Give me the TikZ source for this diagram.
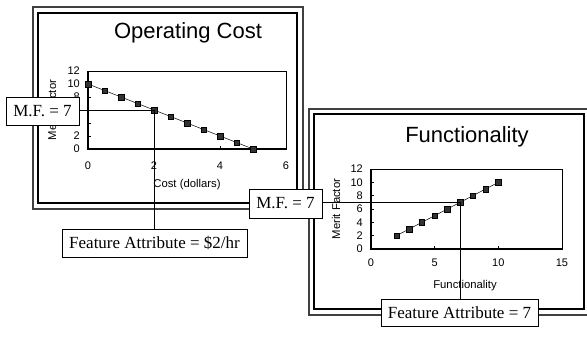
\documentclass[tikz,border=0pt]{standalone}
\usepackage{fontspec}
\setmainfont{Liberation Serif}
\setsansfont{Liberation Sans}
\begin{document}
\begin{tikzpicture}[x=1pt,y=-1pt,
  outerframe/.style={draw=black!75,line width=1.1pt},
  innerframe/.style={draw=black,line width=1.5pt},
  axisbox/.style={draw=black,line width=0.7pt},
  axisline/.style={draw=black,line width=1.6pt},
  ttl/.style={font=\sffamily\fontsize{22}{24}\selectfont,inner sep=0pt},
  tick/.style={font=\sffamily\fontsize{11}{12}\selectfont,inner sep=0pt},
  axlabel/.style={font=\sffamily\fontsize{11.3}{13}\selectfont,inner sep=0pt},
  mk/.style={draw=black,fill=black!80,minimum size=5.5pt,inner sep=0pt,rectangle},
  callout/.style={draw=black,line width=0.6pt,fill=white,font=\fontsize{17}{19}\selectfont,inner sep=0pt,align=center},
  guide/.style={draw=black,line width=0.7pt}]
\useasboundingbox (0,0) rectangle (587,344);
% ---------- left panel ----------
\draw[outerframe] (33,7) rectangle (303,209);
\draw[innerframe] (38,13) rectangle (297,203);
\node[ttl] (t1) at (188,33) {Operating Cost};
\draw[axisbox] (88,71) rectangle (286,149);
\draw[axisline] (88,71) -- (88,149) -- (286,149);
\foreach \v in {0,2,...,12} {
  \draw[line width=0.6pt] (88,149-6.5*\v) -- (91,149-6.5*\v);
  \node[tick,anchor=east] (ly\v) at (80,149-6.5*\v) {\v};
}
\foreach \v in {0,2,4,6} {
  \draw[line width=0.6pt] (88+33*\v,149) -- (88+33*\v,146);
  \node[tick] (lx\v) at (88+33*\v,166) {\v};
}
\node[axlabel,rotate=90] (ym1) at (52,110) {Merit Factor};
\node[axlabel] (xl1) at (187,185) {Cost (dollars)};
\draw[line width=0.5pt] (88,84) -- (253,149);
\foreach \i in {0,...,10} {
  \node[mk] (a\i) at (88+16.5*\i,84+6.5*\i) {};
}
\coordinate (p1) at (154,110);
% ---------- right panel ----------
\draw[outerframe] (309,109) rectangle (588,315);
\draw[innerframe] (314,114) rectangle (584,309);
\node[ttl] (t2) at (467,137) {Functionality};
\draw[axisbox] (371,169) rectangle (562,249);
\draw[axisline] (371,169) -- (371,249) -- (562,249);
\foreach \v in {0,2,...,12} {
  \draw[line width=0.6pt] (371,249-6.667*\v) -- (374,249-6.667*\v);
  \node[tick,anchor=east] (ry\v) at (363,249-6.667*\v) {\v};
}
\foreach \v in {0,5,10,15} {
  \draw[line width=0.6pt] (371+12.733*\v,249) -- (371+12.733*\v,246);
  \node[tick] (rx\v) at (371+12.733*\v,263) {\v};
}
\node[axlabel,rotate=90] (ym2) at (336,209) {Merit Factor};
\node[axlabel] (xl2) at (465,286) {Functionality};
\draw[line width=0.5pt] (371+12.733*2,249-6.667*2) -- (371+12.733*10,249-6.667*10);
\foreach \i in {2,...,10} {
  \node[mk] (b\i) at (371+12.733*\i,249-6.667*\i) {};
}
\coordinate (p2) at (460,202.5);
% ---------- guides ----------
\node[callout,minimum width=73pt,minimum height=28pt] (mf1) at (42.5,111) {M.F. = 7};
\node[callout,minimum width=185pt,minimum height=28pt] (fa1) at (154.5,243) {Feature Attribute = \$2/hr};
\node[callout,minimum width=73pt,minimum height=29pt] (mf2) at (285.5,203.5) {M.F. = 7};
\node[callout,minimum width=157pt,minimum height=27pt] (fa2) at (459.5,312.5) {Feature Attribute = 7};
\draw[guide] (mf1.east |- p1) -- (p1) -- (p1 |- fa1.north);
\draw[guide] (mf2.east |- p2) -- (p2) -- (p2 |- fa2.north);
\end{tikzpicture}
\end{document}
